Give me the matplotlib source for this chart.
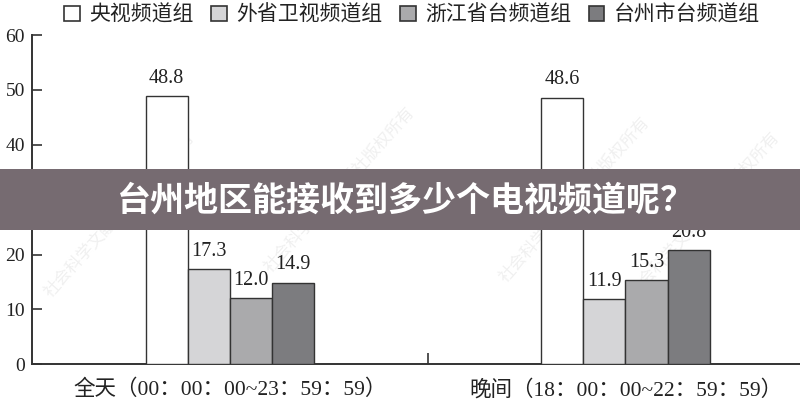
import matplotlib
matplotlib.use('Agg')
import matplotlib.pyplot as plt
from matplotlib.patches import Patch, Rectangle
import numpy as np

# ---- data ----
categories = ['全天（00：00：00~23：59：59）', '晚间（18：00：00~22：59：59）']
series_names = ['央视频道组', '外省卫视频道组', '浙江省台频道组', '台州市台频道组']
cctv = [48.8, 48.6]
other_province = [17.3, 11.9]
zhejiang = [12.0, 15.3]
taizhou = [14.9, 20.8]
yticks = [0, 10, 20, 30, 40, 50, 60]
banner_text = '台州地区能接收到多少个电视频道呢？'
watermark = '社会科学文献出版社版权所有'

series = [cctv, other_province, zhejiang, taizhou]
colors = ['#ffffff', '#d5d5d7', '#aaaaac', '#7c7c7f']
edge = '#333333'
txt = '#222222'
SERIF = ['Liberation Serif', 'Noto Sans CJK SC']
CJK = ['Noto Sans CJK SC', 'DejaVu Sans']

fig = plt.figure(figsize=(8, 4), dpi=100)

# faint watermarks (behind everything)
wm_pos = [(120, 215), (340, 190), (575, 200), (705, 215)]
for (px, py) in wm_pos:
    fig.text(px / 800, 1 - py / 400, watermark, family=CJK, fontsize=12,
             color='#f0f0f0', rotation=48, ha='center', va='center', zorder=-5)

ax = fig.add_axes([32 / 800, 1 - 364.3 / 400, 1 - 32 / 800, (364.3 - 35) / 400])
ax.set_zorder(1)

x = np.arange(len(categories))
w = 0.1065
for i, (vals, c) in enumerate(zip(series, colors)):
    pos = x + (i - 1.5) * w
    bars = ax.bar(pos, vals, width=w, color=c, edgecolor=edge, linewidth=1.0,
                  label=series_names[i], zorder=3)
    for b, v in zip(bars, vals):
        ax.annotate(f'{v:.1f}', (b.get_x() + b.get_width() / 2, v),
                    xytext=(0, 6), textcoords='offset points',
                    ha='center', va='bottom', fontsize=14.5,
                    family=SERIF, color=txt, zorder=4)

ax.set_xlim(-0.5, 1 + (800 - 625.5) / 395.5)
ax.set_ylim(0, 60)
ax.set_yticks(yticks)
ax.set_yticklabels([str(t) for t in yticks], family=SERIF, fontsize=14, color=txt)
ax.tick_params(axis='y', direction='in', length=7, width=1.2, pad=5, colors=edge)
ax.tick_params(axis='y', labelcolor=txt)

ax.set_xticks(x)
ax.set_xticklabels(categories, family=SERIF, fontsize=15.5, color=txt)
ax.tick_params(axis='x', length=0, pad=11)
ax.set_xticks([0.5], minor=True)
ax.tick_params(axis='x', which='minor', direction='in', length=8, width=1.2, colors=edge)

for s in ['top', 'right']:
    ax.spines[s].set_visible(False)
for s in ['left', 'bottom']:
    ax.spines[s].set_color(edge)
    ax.spines[s].set_linewidth(1.4)
ax.set_facecolor('none')

# legend
handles = [Patch(facecolor=c, edgecolor=edge, linewidth=1.2) for c in colors]
leg = fig.legend(handles, series_names, loc='center', bbox_to_anchor=(412 / 800, 1 - 15 / 400),
                 ncol=4, frameon=False, prop={'family': CJK, 'size': 15},
                 handlelength=0.75, handleheight=0.75, handletextpad=0.45,
                 columnspacing=0.85, borderpad=0, borderaxespad=0)
for t in leg.get_texts():
    t.set_color(txt)

# banner
fig.patches.append(Rectangle((0, 1 - 230 / 400), 1, (230 - 169.3) / 400,
                             transform=fig.transFigure, facecolor='#766b71',
                             edgecolor='none', zorder=10))
fig.text(0.507, 1 - 200 / 400, banner_text, family=CJK, fontsize=24.5,
         fontweight='bold', color='white', ha='center', va='center', zorder=11)

fig.savefig('out.png', dpi=100)
